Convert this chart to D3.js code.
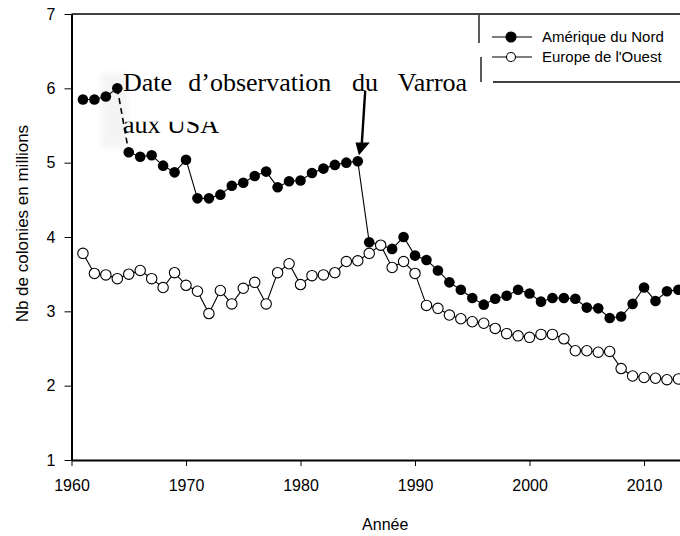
<!DOCTYPE html>
<meta charset="utf-8">
<style>
body { margin: 0; background: #fff; }
svg { display: block; font-family: "Liberation Sans", Arial, sans-serif; }
.serie { fill: none; stroke: #000; stroke-width: 1.1px; }
.axe path, .axe line { stroke: #000; }
</style>
<body>
<svg id="chart" width="680" height="536"></svg>
<script src="https://d3js.org/d3.v7.min.js"></script>
<script>

// annees 1961 -> 2013
var annees = d3.range(1961, 2014);

// Amerique du Nord (millions de colonies)
var ameriqueNord = [5.85, 5.85, 5.89, 6.00, 5.14, 5.08, 5.10, 4.96, 4.87, 5.04,
  4.52, 4.52, 4.57, 4.69, 4.73, 4.82, 4.88, 4.67, 4.75, 4.76,
  4.86, 4.92, 4.97, 5.00, 5.02, 3.93, 3.89, 3.84, 4.00, 3.75,
  3.69, 3.55, 3.39, 3.29, 3.18, 3.09, 3.17, 3.21, 3.29, 3.24,
  3.13, 3.18, 3.18, 3.17, 3.05, 3.04, 2.91, 2.93, 3.10, 3.32,
  3.14, 3.27, 3.29];

// Europe de l'Ouest
var europeOuest = [3.78, 3.51, 3.49, 3.44, 3.50, 3.55, 3.44, 3.32, 3.52, 3.35,
  3.27, 2.97, 3.28, 3.10, 3.31, 3.39, 3.10, 3.52, 3.64, 3.36,
  3.48, 3.49, 3.52, 3.67, 3.68, 3.78, 3.89, 3.59, 3.67, 3.51,
  3.08, 3.04, 2.95, 2.90, 2.86, 2.84, 2.77, 2.70, 2.67, 2.65,
  2.69, 2.69, 2.63, 2.47, 2.47, 2.45, 2.46, 2.23, 2.13, 2.11,
  2.10, 2.08, 2.09];

var xTicks = [1960, 1970, 1980, 1990, 2000, 2010];
var yTicks = [1, 2, 3, 4, 5, 6, 7];
var legende = ["Amérique du Nord", "Europe de l'Ouest"];
var annotation = ["Date", "d\u2019observation", "du", "Varroa"];

var svg = d3.select("#chart");

// echelles (l'axe va jusqu'a 2015, l'image est coupee a droite)
var x = d3.scaleLinear().domain([1960, 2015]).range([71.5, 701.3]);
var y = d3.scaleLinear().domain([1, 7]).range([460, 14]);

var nord = annees.map(function(a, i) { return {an: a, v: ameriqueNord[i]}; });
var europe = annees.map(function(a, i) { return {an: a, v: europeOuest[i]}; });

var ligne = d3.line()
    .x(function(d) { return x(d.an); })
    .y(function(d) { return y(d.v); });

// tache grise du scan autour de la fleche pointillee
var flou = svg.append("defs").append("filter").attr("id", "flou");
flou.append("feGaussianBlur").attr("stdDeviation", 3);
svg.append("rect")
    .attr("x", x(1962.6)).attr("y", y(6.2))
    .attr("width", x(1964.9) - x(1962.6)).attr("height", y(5.2) - y(6.2))
    .attr("filter", "url(#flou)")
    .style("fill", "#f4f4f4");

// cadre du haut
svg.append("line")
    .attr("x1", x(1960)).attr("x2", 680)
    .attr("y1", y(7)).attr("y2", y(7))
    .style("stroke", "#000").style("stroke-width", 1.5);

// axe Y
svg.append("g")
    .attr("class", "axe")
    .attr("transform", "translate(" + x(1960) + ",0)")
    .call(d3.axisLeft(y).tickValues(yTicks).tickFormat(d3.format("d")).tickSize(7).tickPadding(9).tickSizeOuter(0))
    .call(function(g) {
      g.select(".domain").style("stroke-width", 2);
      g.selectAll("text").style("font-size", "16px").style("fill", "#000")
        .style("font-family", "'Liberation Sans', Arial, sans-serif");
    });

// axe X
svg.append("g")
    .attr("class", "axe")
    .attr("transform", "translate(0," + y(1) + ")")
    .call(d3.axisBottom(x).tickValues(xTicks).tickFormat(d3.format("d")).tickSize(6).tickPadding(14).tickSizeOuter(0))
    .call(function(g) {
      g.select(".domain").style("stroke-width", 2);
      g.selectAll("text").style("font-size", "16px").style("fill", "#000")
        .style("font-family", "'Liberation Sans', Arial, sans-serif");
    });

// titres des axes
svg.append("text")
    .attr("transform", "translate(28," + y(4.18) + ") rotate(-90)")
    .attr("text-anchor", "middle")
    .style("font-size", "17px")
    .text("Nb de colonies en millions");

svg.append("text")
    .attr("x", x(1987.4)).attr("y", 530)
    .attr("text-anchor", "middle")
    .style("font-size", "16px")
    .text("Année");

// Amerique du Nord : segment 1964-1965 en pointille
svg.append("path").datum(nord.slice(0, 4)).attr("class", "serie").attr("d", ligne);
svg.append("path").datum(nord.slice(4)).attr("class", "serie").attr("d", ligne);
svg.append("path").datum(nord.slice(3, 5)).attr("class", "serie")
    .style("stroke-width", 1.6).style("stroke-dasharray", "6,4").attr("d", ligne);

svg.selectAll(".pt-nord")
  .data(nord)
  .enter()
  .append("circle")
    .attr("class", "pt-nord")
    .attr("cx", function(d) { return x(d.an); })
    .attr("cy", function(d) { return y(d.v); })
    .attr("r", 5.3)
    .style("fill", "#000");

// Europe de l'Ouest
svg.append("path").datum(europe).attr("class", "serie").attr("d", ligne);

svg.selectAll(".pt-europe")
  .data(europe)
  .enter()
  .append("circle")
    .attr("class", "pt-europe")
    .attr("cx", function(d) { return x(d.an); })
    .attr("cy", function(d) { return y(d.v); })
    .attr("r", 5.2)
    .style("fill", "#fff")
    .style("stroke", "#000")
    .style("stroke-width", 1.1);

// fleche vers 1985
svg.append("line")
    .attr("x1", x(1985.65)).attr("y1", y(5.97))
    .attr("x2", x(1985.35)).attr("y2", y(5.25))
    .style("stroke", "#000").style("stroke-width", 2.4);
svg.append("path")
    .attr("d", "M" + x(1984.8) + "," + y(5.27) + "L" + x(1986.05) + "," + y(5.27) +
               "L" + x(1985.1) + "," + y(5.1) + "Z")
    .style("fill", "#000");

// texte d'annotation (justifie, mot par mot)
var motsX = [1964.5, 1970.2, 1984.5, 1988.5];
svg.selectAll(".mot")
  .data(annotation)
  .enter()
  .append("text")
    .attr("class", "mot")
    .attr("x", function(d, i) { return x(motsX[i]); })
    .attr("y", y(5.96))
    .style("font-family", "'Liberation Serif', 'Times New Roman', serif")
    .style("font-size", "26px")
    .text(function(d) { return d; });

// deuxieme ligne coupee en haut
svg.append("clipPath").attr("id", "coupe")
  .append("rect").attr("x", 100).attr("y", y(5.55)).attr("width", 200).attr("height", 40);
svg.append("text")
    .attr("x", x(1964.5)).attr("y", y(5.4))
    .attr("clip-path", "url(#coupe)")
    .style("font-family", "'Liberation Serif', 'Times New Roman', serif")
    .style("font-size", "26px")
    .text("aux USA");

// legende
var leg = svg.append("g");
leg.append("line").attr("x1", 479).attr("x2", 479).attr("y1", 15).attr("y2", 43)
    .style("stroke", "#000").style("stroke-width", 1.3);
leg.append("line").attr("x1", 481).attr("x2", 481).attr("y1", 57).attr("y2", 82)
    .style("stroke", "#000").style("stroke-width", 1.3);
leg.append("line").attr("x1", 493).attr("x2", 680).attr("y1", 82).attr("y2", 82)
    .style("stroke", "#000").style("stroke-width", 1.3);

leg.selectAll(".leg-ligne")
  .data(legende)
  .enter()
  .append("line")
    .attr("x1", 492).attr("x2", 532)
    .attr("y1", function(d, i) { return 37 + i * 20; })
    .attr("y2", function(d, i) { return 37 + i * 20; })
    .style("stroke", "#000").style("stroke-width", 1.1);

leg.selectAll(".leg-pt")
  .data(legende)
  .enter()
  .append("circle")
    .attr("cx", 511)
    .attr("cy", function(d, i) { return 37 + i * 20; })
    .attr("r", function(d, i) { return i == 0 ? 5 : 4.5; })
    .style("fill", function(d, i) { return i == 0 ? "#000" : "#fff"; })
    .style("stroke", "#000").style("stroke-width", 1.1);

leg.selectAll(".leg-txt")
  .data(legende)
  .enter()
  .append("text")
    .attr("x", 542)
    .attr("y", function(d, i) { return 37 + i * 20; })
    .attr("dy", "0.35em")
    .style("font-size", "15px")
    .text(function(d) { return d; });

</script>
</body>
